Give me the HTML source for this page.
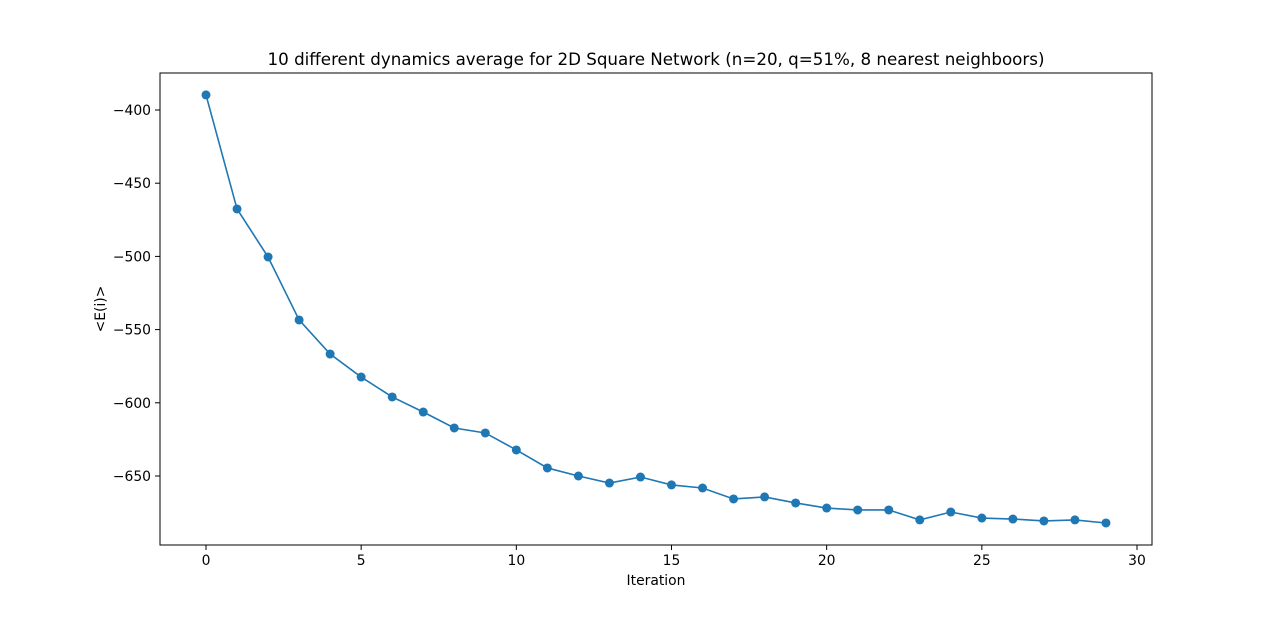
<!DOCTYPE html>
<html><head><meta charset="utf-8"><style>
body{margin:0;background:#fff;}
svg text{font-family:"DejaVu Sans","Liberation Sans",sans-serif;}
</style></head><body>
<svg id="chart" width="1280" height="612" xmlns="http://www.w3.org/2000/svg">
<rect width="1280" height="612" fill="#fff"/>
<text x="656" y="65" font-size="16.7" text-anchor="middle">10 different dynamics average for 2D Square Network (n=20, q=51%, 8 nearest neighboors)</text>
<text x="656" y="585" font-size="13.9" text-anchor="middle">Iteration</text>
<text x="105" y="309" font-size="13.9" text-anchor="middle" transform="rotate(-90 105 309)">&lt;E(i)&gt;</text>
<g id="ticks"></g>
<g id="marks"></g>
<rect x="160" y="73" width="992" height="472" fill="none" stroke="#000" stroke-width="1"/>
</svg>
<script>
const iterations = [0,1,2,3,4,5,6,7,8,9,10,11,12,13,14,15,16,17,18,19,20,21,22,23,24,25,26,27,28,29];
const energies = [-389.7,-467.6,-500.4,-543.4,-566.7,-582.4,-596,-606.3,-617.2,-620.6,-632.2,-644.5,-650,-654.8,-650.7,-656.1,-658.2,-665.7,-664.3,-668.4,-671.9,-673.2,-673.2,-680,-674.6,-678.7,-679.4,-680.7,-680,-682.1];
const xTicks = [0,5,10,15,20,25,30];
const yTicks = [-400,-450,-500,-550,-600,-650];

const NS = "http://www.w3.org/2000/svg";
function xs(v){return 206 + v*(1137-206)/30;}
function ys(v){return 110 + (-400 - v)*(476-110)/250;}
function mk(tag, attrs, parent){const e=document.createElementNS(NS,tag);for(const k in attrs)e.setAttribute(k,attrs[k]);parent.appendChild(e);return e;}
const tg=document.getElementById('ticks');
xTicks.forEach(t=>{
  const x=xs(t);
  const l=mk('line',{x1:x,x2:x,y1:545,y2:550,stroke:'#000'},tg);
  
  
  const tx=mk('text',{x:x,y:565,'font-size':13.9,'text-anchor':'middle'},tg);
  tx.textContent=t;
  
  
});
yTicks.forEach(t=>{
  const y=ys(t);
  const l=mk('line',{x1:155,x2:160,y1:y,y2:y,stroke:'#000'},tg);
  
  
  const tx=mk('text',{x:151,y:y+5,'font-size':13.9,'text-anchor':'end'},tg);
  tx.textContent='\u2212'+Math.abs(t);
  
  
});
const mg=document.getElementById('marks');
const pts=iterations.map((v,i)=>xs(v)+','+ys(energies[i])).join(' ');
const pl=mk('polyline',{points:pts,fill:'none',stroke:'#1f77b4','stroke-width':1.6},mg);


iterations.forEach((v,i)=>{
  const c=mk('circle',{cx:xs(v),cy:ys(energies[i]),r:4.5,fill:'#1f77b4'},mg);
  
  
});
</script>
</body></html>
